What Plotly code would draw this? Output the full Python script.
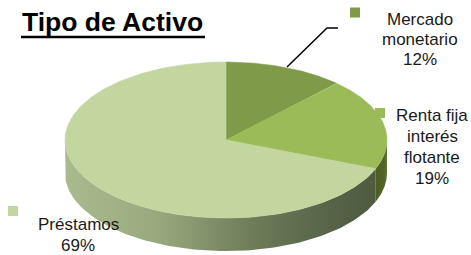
import numpy as np
import plotly.graph_objects as go

# ---- data ----
categories = ["Mercado monetario", "Renta fija interés flotante", "Préstamos"]
values = [12, 19, 69]
label_lines = [["Mercado", "monetario"], ["Renta fija", "interés", "flotante"], ["Préstamos"]]
title_text = "Tipo de Activo"

# ---- styles / geometry ----
top_colors = ["#7F9A48", "#9BBB59", "#C4D6A0"]
side_scales = [
    None,
    [[0, "#4A5E22"], [0.7, "#4F6426"], [1, "#5E7334"]],
    [[0, "#A9BB8E"], [0.3, "#98A97E"], [0.6, "#6E7C5A"], [0.85, "#566448"], [1, "#4E5B40"]],
]
cx, cy, a, b, depth = 226, 140, 161, 78, 33
FONT = "Liberation Sans, Arial, sans-serif"


def pt(t, dy=0.0):
    return cx + a * np.sin(t), cy - b * np.cos(t) + dy


fig = go.Figure()

total = float(sum(values))
bounds = np.cumsum([0] + values) / total * 2 * np.pi

# legend keys (drawn first, behind the pie)
key_pos = [(355, 12.5), (380, 113), (13, 211)]
for (kx, ky), col in zip(key_pos, top_colors):
    fig.add_trace(go.Scatter(x=[kx], y=[ky], mode="markers",
                             marker=dict(symbol="square", size=10, color=col, line=dict(width=0)),
                             hoverinfo="skip", showlegend=False))

# sides (visible front half: pi/2 .. 3pi/2)
for i in range(len(values)):
    t0, t1 = max(bounds[i], np.pi / 2), min(bounds[i + 1], 3 * np.pi / 2)
    if t1 <= t0 or side_scales[i] is None:
        continue
    ts = np.linspace(t0, t1, 120)
    xt, yt = pt(ts)
    xb, yb = pt(ts[::-1], depth)
    xs = np.concatenate([xt, xb, xt[:1]])
    ys = np.concatenate([yt, yb, yt[:1]])
    fig.add_trace(go.Scatter(x=xs, y=ys, mode="lines", fill="toself",
                             line=dict(width=0), fillcolor=top_colors[i],
                             fillgradient=dict(type="horizontal", colorscale=side_scales[i]),
                             hoverinfo="skip", showlegend=False))

# top faces
for i in range(len(values)):
    ts = np.linspace(bounds[i], bounds[i + 1], 200)
    xe, ye = pt(ts)
    xs = np.concatenate([[cx], xe, [cx]])
    ys = np.concatenate([[cy], ye, [cy]])
    fig.add_trace(go.Scatter(x=xs, y=ys, mode="lines", fill="toself",
                             line=dict(width=0.6, color=top_colors[i]), fillcolor=top_colors[i],
                             hoverinfo="skip", showlegend=False, name=categories[i]))

# labels
label_anchor = [(420, [19, 39.5, 59.5]), (432, [115, 136, 157, 178]), (78, [224, 245])]
annotations = []
for i in range(len(values)):
    lines = label_lines[i] + ["%d%%" % round(values[i] / total * 100)]
    lx, lys = label_anchor[i]
    for txt, ly in zip(lines, lys):
        annotations.append(dict(x=lx, y=ly, xref="x", yref="y", text=txt, showarrow=False,
                                xanchor="center", yanchor="middle",
                                font=dict(family=FONT, size=17, color="#1a1a1a")))

annotations.append(dict(x=20, y=22, xref="x", yref="y", text="<b>%s</b>" % title_text,
                        showarrow=False, xanchor="left", yanchor="middle",
                        font=dict(family=FONT, size=26.5, color="#000000")))

fig.update_layout(
    width=471, height=255,
    margin=dict(l=0, r=0, t=0, b=0),
    paper_bgcolor="white", plot_bgcolor="white",
    xaxis=dict(range=[0, 471], visible=False, fixedrange=True),
    yaxis=dict(range=[255, 0], visible=False, fixedrange=True),
    annotations=annotations,
    shapes=[
        dict(type="path", path="M 338,28 L 327,28 L 287,67", xref="x", yref="y",
             line=dict(color="black", width=1.5)),
        dict(type="line", x0=21, x1=205, y0=37, y1=37, xref="x", yref="y",
             line=dict(color="black", width=2.5)),
    ],
    showlegend=False,
)

fig.write_html("out.html", config={"displayModeBar": False},
               post_script="document.body.style.margin='0';document.body.style.overflow='hidden';")
